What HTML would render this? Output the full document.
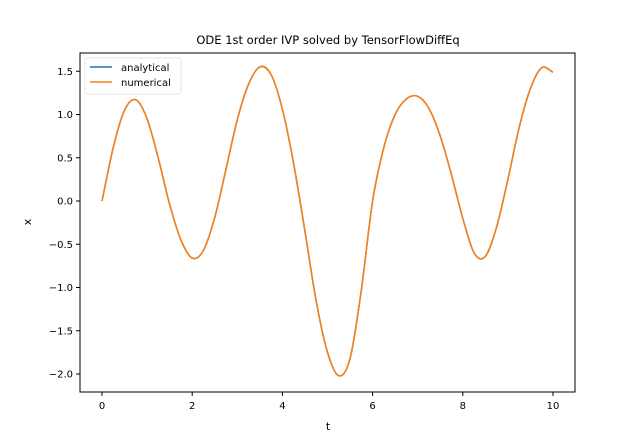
<!DOCTYPE html>
<html><head><meta charset="utf-8"><style>
html,body{margin:0;padding:0;background:#fff;}
svg{display:block;font-family:"DejaVu Sans","Liberation Sans",sans-serif;}
</style></head><body>
<svg id="chart" width="640" height="440" viewBox="0 0 640 440">
<text x="328" y="44" text-anchor="middle" font-size="11.5">ODE 1st order IVP solved by TensorFlowDiffEq</text>
<g id="ticks"></g>
<g id="lines"></g>
<rect x="80" y="53" width="495" height="339" fill="none" stroke="#000" stroke-width="1"/>
<text x="328" y="430" text-anchor="middle" font-size="11">t</text>
<text x="0" y="0" transform="translate(31,222) rotate(-90)" text-anchor="middle" font-size="11">x</text>
<g>
<rect x="85" y="58" width="96" height="36" rx="2" fill="#fff" fill-opacity="0.8" stroke="#e6e6e6"/>
<line x1="90" y1="67" x2="112" y2="67" stroke="#1f77b4" stroke-width="1.5"/>
<text x="121" y="71" font-size="10">analytical</text>
<line x1="90" y1="82" x2="112" y2="82" stroke="#ff7f0e" stroke-width="1.5"/>
<text x="121" y="86" font-size="10">numerical</text>
</g>
</svg>
<script>
const tValues=[0,0.25,0.5,0.75,1.0,1.25,1.5,1.75,2.0,2.25,2.5,2.75,3.0,3.25,3.5,3.75,4.0,4.25,4.5,4.75,5.0,5.25,5.5,5.75,6.0,6.25,6.5,6.75,7.0,7.25,7.5,7.75,8.0,8.25,8.5,8.75,9.0,9.25,9.5,9.75,10];
const analyticalValues=[0,0.62,1.05,1.17,0.95,0.49,-0.04,-0.45,-0.66,-0.57,-0.19,0.37,0.94,1.35,1.55,1.46,1.06,0.43,-0.35,-1.16,-1.75,-2.02,-1.82,-1.03,0,0.62,1.0,1.18,1.21,1.07,0.75,0.30,-0.20,-0.60,-0.64,-0.30,0.25,0.85,1.30,1.54,1.49];
const numericalValues=[0,0.62,1.05,1.17,0.95,0.49,-0.04,-0.45,-0.66,-0.57,-0.19,0.37,0.94,1.35,1.55,1.46,1.06,0.43,-0.35,-1.16,-1.75,-2.02,-1.82,-1.03,0,0.62,1.0,1.18,1.21,1.07,0.75,0.30,-0.20,-0.60,-0.64,-0.30,0.25,0.85,1.30,1.54,1.49];
const xTicks=[0,2,4,6,8,10];
const yTicks=[1.5,1.0,0.5,0.0,-0.5,-1.0,-1.5,-2.0];
const NS="http://www.w3.org/2000/svg";
function xs(t){return 102+(t-0)*(553-102)/10;}
function ys(v){return 201-v*(374-201)/2.0;}
const tg=document.getElementById('ticks');
xTicks.forEach(t=>{
  const l=document.createElementNS(NS,'line');
  l.setAttribute('x1',xs(t));l.setAttribute('x2',xs(t));l.setAttribute('y1',392);l.setAttribute('y2',396);l.setAttribute('stroke','#000');
  
  
  tg.appendChild(l);
  const s=document.createElementNS(NS,'text');
  s.setAttribute('x',xs(t));s.setAttribute('y',409);s.setAttribute('text-anchor','middle');s.setAttribute('font-size','10');
  s.textContent=t;
  
  
  tg.appendChild(s);
});
yTicks.forEach(v=>{
  const l=document.createElementNS(NS,'line');
  l.setAttribute('x1',76);l.setAttribute('x2',80);l.setAttribute('y1',ys(v));l.setAttribute('y2',ys(v));l.setAttribute('stroke','#000');
  
  
  tg.appendChild(l);
  const s=document.createElementNS(NS,'text');
  s.setAttribute('x',73);s.setAttribute('y',ys(v)+3.5);s.setAttribute('text-anchor','end');s.setAttribute('font-size','10');
  s.textContent=(v<0?'\u2212':'')+Math.abs(v).toFixed(1);
  
  
  tg.appendChild(s);
});
function pathFor(ts,vs){
  const n=ts.length;
  const m=ts.map((t,i)=>{
    const a=Math.max(i-1,0),b=Math.min(i+1,n-1);
    return (vs[b]-vs[a])/(ts[b]-ts[a]);
  });
  let d='M'+xs(ts[0])+','+ys(vs[0]);
  for(let i=0;i<n-1;i++){
    const h=ts[i+1]-ts[i];
    const c1t=ts[i]+h/3,c1v=vs[i]+m[i]*h/3;
    const c2t=ts[i+1]-h/3,c2v=vs[i+1]-m[i+1]*h/3;
    d+=' C'+xs(c1t)+','+ys(c1v)+' '+xs(c2t)+','+ys(c2v)+' '+xs(ts[i+1])+','+ys(vs[i+1]);
  }
  return d;
}
const lg=document.getElementById('lines');
const a=document.createElementNS(NS,'path');
a.setAttribute('d',pathFor(tValues,analyticalValues));a.setAttribute('fill','none');a.setAttribute('stroke','#1f77b4');a.setAttribute('stroke-width','1.5');


lg.appendChild(a);
const nl=document.createElementNS(NS,'path');
nl.setAttribute('d',pathFor(tValues,numericalValues));nl.setAttribute('fill','none');nl.setAttribute('stroke','#ff7f0e');nl.setAttribute('stroke-width','1.5');


lg.appendChild(nl);
</script>
</body></html>
